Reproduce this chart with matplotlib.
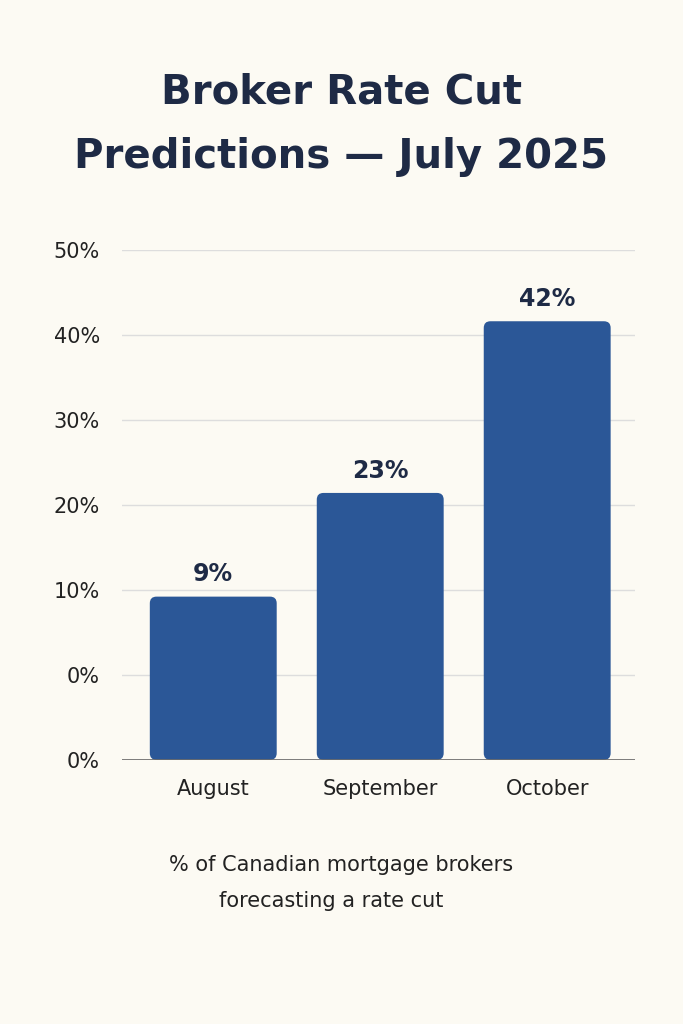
import matplotlib
matplotlib.use("Agg")
import matplotlib.pyplot as plt
from matplotlib.patches import FancyBboxPatch

categories = ["August", "September", "October"]
value_labels = ["9%", "23%", "42%"]
bar_heights = [19.2, 31.4, 51.6]  # heights as drawn on the (odd) axis
tick_positions = [0, 10, 20, 30, 40, 50, 60]
tick_labels = ["0%", "0%", "10%", "20%", "30%", "40%", "50%"]

bg = "#fcfaf3"
bar_color = "#2b5797"
text_color = "#1e2a45"

fig = plt.figure(figsize=(6.83, 10.24), dpi=100, facecolor=bg)
ax = fig.add_axes([0.179, 0.258, 0.751, 0.498], facecolor=bg)
ax.set_ylim(0, 60)
ax.set_xlim(-0.545, 2.527)
ax.set_yticks(tick_positions)
ax.set_yticklabels(tick_labels, fontsize=15, color="#222222", fontname="DejaVu Sans")
ax.tick_params(axis="y", length=0, pad=16)
ax.tick_params(axis="x", length=0, pad=14)
ax.set_xticks(range(len(categories)))
ax.set_xticklabels(categories, fontsize=15, color="#222222")
for s in ax.spines.values():
    s.set_visible(False)
for t in tick_positions[1:]:
    ax.axhline(t, color="#dddddd", lw=1, zorder=0)
ax.axhline(0, color="#666666", lw=1.2, zorder=3)

w = 0.76
aspect = (60 / 510) / (3.072 / 513)
for i, (h, lab) in enumerate(zip(bar_heights, value_labels)):
    p = FancyBboxPatch((i - w / 2, 0), w, h,
                       boxstyle="round,pad=0,rounding_size=0.04",
                       mutation_aspect=aspect, fc=bar_color, ec="none", zorder=2)
    ax.add_patch(p)
    ax.text(i, h + 1.2, lab, ha="center", va="bottom", fontsize=17,
            fontweight="bold", color=text_color)

fig.text(0.5, 0.91, "Broker Rate Cut", ha="center", va="center",
         fontsize=29, fontweight="bold", color=text_color)
fig.text(0.5, 0.847, "Predictions \u2014 July 2025", ha="center", va="center",
         fontsize=29, fontweight="bold", color=text_color)
fig.text(0.5, 0.155, "% of Canadian mortgage brokers", ha="center", va="center",
         fontsize=15, color="#222222")
fig.text(0.485, 0.12, "forecasting a rate cut", ha="center", va="center",
         fontsize=15, color="#222222")

fig.savefig("out.png", dpi=100, facecolor=bg)
